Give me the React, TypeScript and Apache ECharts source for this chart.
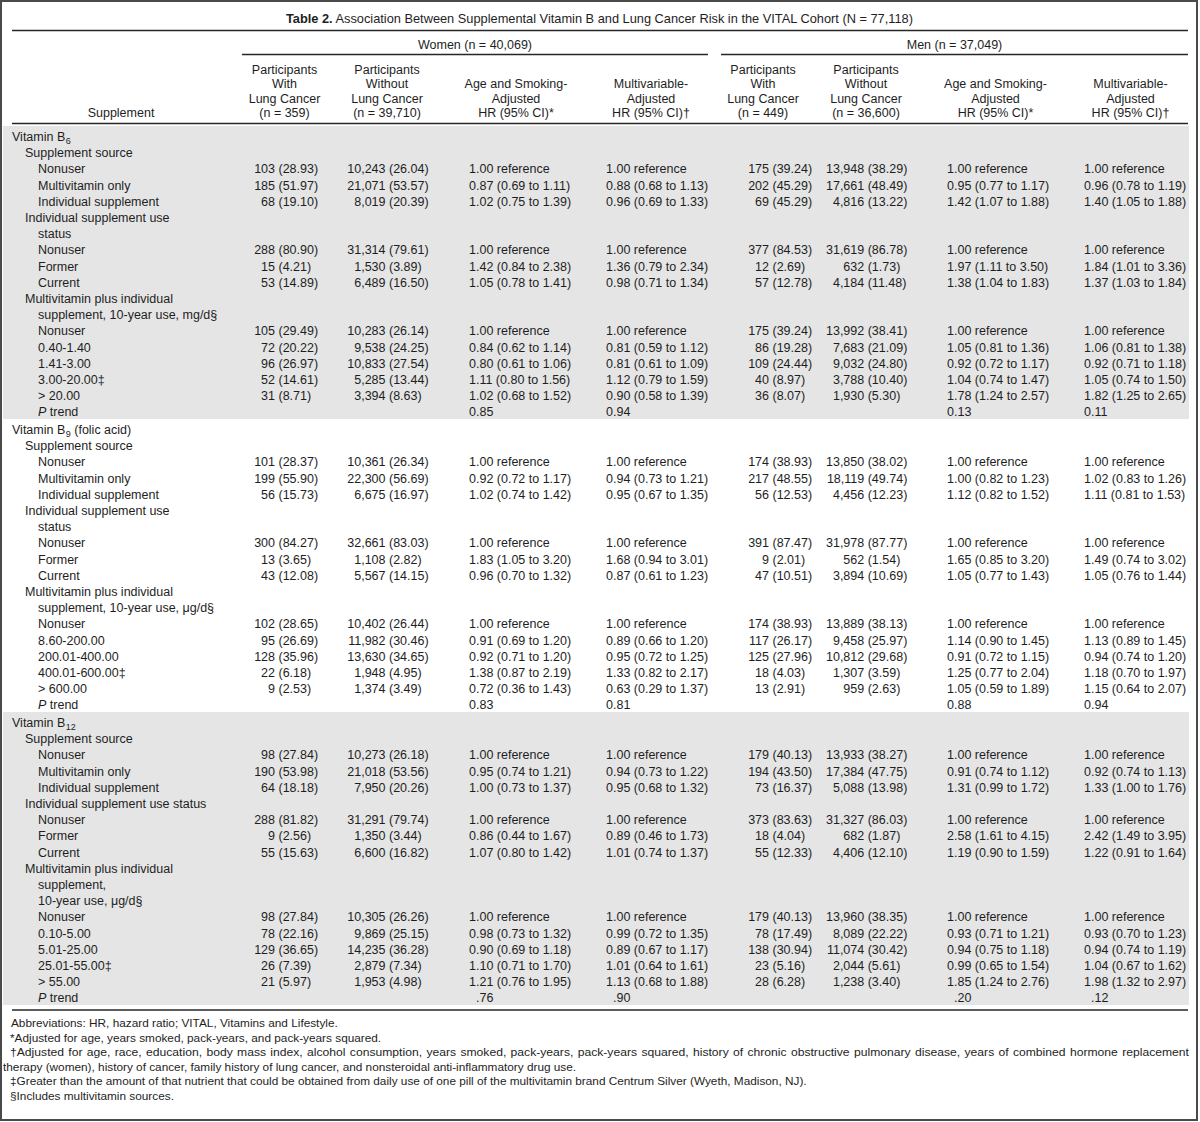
import React, { useEffect, useRef } from "react";
import * as echarts from "echarts";

// ---------- text content ----------
const titleBold = "Table 2.";
const titleRest =
  " Association Between Supplemental Vitamin B and Lung Cancer Risk in the VITAL Cohort (N = 77,118)";
const groupHeaders = ["Women (n = 40,069)", "Men (n = 37,049)"];
const supplementHeader = "Supplement";
const colHeaders: string[][] = [
  ["Participants", "With", "Lung Cancer", "(n = 359)"],
  ["Participants", "Without", "Lung Cancer", "(n = 39,710)"],
  ["Age and Smoking-", "Adjusted", "HR (95% CI)*"],
  ["Multivariable-", "Adjusted", "HR (95% CI)\u2020"],
  ["Participants", "With", "Lung Cancer", "(n = 449)"],
  ["Participants", "Without", "Lung Cancer", "(n = 36,600)"],
  ["Age and Smoking-", "Adjusted", "HR (95% CI)*"],
  ["Multivariable-", "Adjusted", "HR (95% CI)\u2020"],
];

const REF = "1.00 reference";

// ---------- Vitamin B6 ----------
const b6Labels: [string, number][] = [
  ["Vitamin B{6}", 0],
  ["Supplement source", 1],
  ["Nonuser", 2],
  ["Multivitamin only", 2],
  ["Individual supplement", 2],
  ["Individual supplement use", 1],
  ["status", 2],
  ["Nonuser", 2],
  ["Former", 2],
  ["Current", 2],
  ["Multivitamin plus individual", 1],
  ["supplement, 10-year use, mg/d\u00a7", 2],
  ["Nonuser", 2],
  ["0.40-1.40", 2],
  ["1.41-3.00", 2],
  ["3.00-20.00\u2021", 2],
  ["> 20.00", 2],
  ["P trend", 2],
];
const b6Women: (string[] | null)[] = [
  null, null,
  ["103 (28.93)", "10,243 (26.04)", REF, REF],
  ["185 (51.97)", "21,071 (53.57)", "0.87 (0.69 to 1.11)", "0.88 (0.68 to 1.13)"],
  ["68 (19.10)", "8,019 (20.39)", "1.02 (0.75 to 1.39)", "0.96 (0.69 to 1.33)"],
  null, null,
  ["288 (80.90)", "31,314 (79.61)", REF, REF],
  ["15 (4.21)", "1,530 (3.89)", "1.42 (0.84 to 2.38)", "1.36 (0.79 to 2.34)"],
  ["53 (14.89)", "6,489 (16.50)", "1.05 (0.78 to 1.41)", "0.98 (0.71 to 1.34)"],
  null, null,
  ["105 (29.49)", "10,283 (26.14)", REF, REF],
  ["72 (20.22)", "9,538 (24.25)", "0.84 (0.62 to 1.14)", "0.81 (0.59 to 1.12)"],
  ["96 (26.97)", "10,833 (27.54)", "0.80 (0.61 to 1.06)", "0.81 (0.61 to 1.09)"],
  ["52 (14.61)", "5,285 (13.44)", "1.11 (0.80 to 1.56)", "1.12 (0.79 to 1.59)"],
  ["31 (8.71)", "3,394 (8.63)", "1.02 (0.68 to 1.52)", "0.90 (0.58 to 1.39)"],
  ["", "", "0.85", "0.94"],
];
const b6Men: (string[] | null)[] = [
  null, null,
  ["175 (39.24)", "13,948 (38.29)", REF, REF],
  ["202 (45.29)", "17,661 (48.49)", "0.95 (0.77 to 1.17)", "0.96 (0.78 to 1.19)"],
  ["69 (45.29)", "4,816 (13.22)", "1.42 (1.07 to 1.88)", "1.40 (1.05 to 1.88)"],
  null, null,
  ["377 (84.53)", "31,619 (86.78)", REF, REF],
  ["12 (2.69)", "632 (1.73)", "1.97 (1.11 to 3.50)", "1.84 (1.01 to 3.36)"],
  ["57 (12.78)", "4,184 (11.48)", "1.38 (1.04 to 1.83)", "1.37 (1.03 to 1.84)"],
  null, null,
  ["175 (39.24)", "13,992 (38.41)", REF, REF],
  ["86 (19.28)", "7,683 (21.09)", "1.05 (0.81 to 1.36)", "1.06 (0.81 to 1.38)"],
  ["109 (24.44)", "9,032 (24.80)", "0.92 (0.72 to 1.17)", "0.92 (0.71 to 1.18)"],
  ["40 (8.97)", "3,788 (10.40)", "1.04 (0.74 to 1.47)", "1.05 (0.74 to 1.50)"],
  ["36 (8.07)", "1,930 (5.30)", "1.78 (1.24 to 2.57)", "1.82 (1.25 to 2.65)"],
  ["", "", "0.13", "0.11"],
];

// ---------- Vitamin B9 ----------
const b9Labels: [string, number][] = [
  ["Vitamin B{9} (folic acid)", 0],
  ["Supplement source", 1],
  ["Nonuser", 2],
  ["Multivitamin only", 2],
  ["Individual supplement", 2],
  ["Individual supplement use", 1],
  ["status", 2],
  ["Nonuser", 2],
  ["Former", 2],
  ["Current", 2],
  ["Multivitamin plus individual", 1],
  ["supplement, 10-year use, \u03bcg/d\u00a7", 2],
  ["Nonuser", 2],
  ["8.60-200.00", 2],
  ["200.01-400.00", 2],
  ["400.01-600.00\u2021", 2],
  ["> 600.00", 2],
  ["P trend", 2],
];
const b9Women: (string[] | null)[] = [
  null, null,
  ["101 (28.37)", "10,361 (26.34)", REF, REF],
  ["199 (55.90)", "22,300 (56.69)", "0.92 (0.72 to 1.17)", "0.94 (0.73 to 1.21)"],
  ["56 (15.73)", "6,675 (16.97)", "1.02 (0.74 to 1.42)", "0.95 (0.67 to 1.35)"],
  null, null,
  ["300 (84.27)", "32,661 (83.03)", REF, REF],
  ["13 (3.65)", "1,108 (2.82)", "1.83 (1.05 to 3.20)", "1.68 (0.94 to 3.01)"],
  ["43 (12.08)", "5,567 (14.15)", "0.96 (0.70 to 1.32)", "0.87 (0.61 to 1.23)"],
  null, null,
  ["102 (28.65)", "10,402 (26.44)", REF, REF],
  ["95 (26.69)", "11,982 (30.46)", "0.91 (0.69 to 1.20)", "0.89 (0.66 to 1.20)"],
  ["128 (35.96)", "13,630 (34.65)", "0.92 (0.71 to 1.20)", "0.95 (0.72 to 1.25)"],
  ["22 (6.18)", "1,948 (4.95)", "1.38 (0.87 to 2.19)", "1.33 (0.82 to 2.17)"],
  ["9 (2.53)", "1,374 (3.49)", "0.72 (0.36 to 1.43)", "0.63 (0.29 to 1.37)"],
  ["", "", "0.83", "0.81"],
];
const b9Men: (string[] | null)[] = [
  null, null,
  ["174 (38.93)", "13,850 (38.02)", REF, REF],
  ["217 (48.55)", "18,119 (49.74)", "1.00 (0.82 to 1.23)", "1.02 (0.83 to 1.26)"],
  ["56 (12.53)", "4,456 (12.23)", "1.12 (0.82 to 1.52)", "1.11 (0.81 to 1.53)"],
  null, null,
  ["391 (87.47)", "31,978 (87.77)", REF, REF],
  ["9 (2.01)", "562 (1.54)", "1.65 (0.85 to 3.20)", "1.49 (0.74 to 3.02)"],
  ["47 (10.51)", "3,894 (10.69)", "1.05 (0.77 to 1.43)", "1.05 (0.76 to 1.44)"],
  null, null,
  ["174 (38.93)", "13,889 (38.13)", REF, REF],
  ["117 (26.17)", "9,458 (25.97)", "1.14 (0.90 to 1.45)", "1.13 (0.89 to 1.45)"],
  ["125 (27.96)", "10,812 (29.68)", "0.91 (0.72 to 1.15)", "0.94 (0.74 to 1.20)"],
  ["18 (4.03)", "1,307 (3.59)", "1.25 (0.77 to 2.04)", "1.18 (0.70 to 1.97)"],
  ["13 (2.91)", "959 (2.63)", "1.05 (0.59 to 1.89)", "1.15 (0.64 to 2.07)"],
  ["", "", "0.88", "0.94"],
];

// ---------- Vitamin B12 ----------
const b12Labels: [string, number][] = [
  ["Vitamin B{12}", 0],
  ["Supplement source", 1],
  ["Nonuser", 2],
  ["Multivitamin only", 2],
  ["Individual supplement", 2],
  ["Individual supplement use status", 1],
  ["Nonuser", 2],
  ["Former", 2],
  ["Current", 2],
  ["Multivitamin plus individual", 1],
  ["supplement,", 2],
  ["10-year use, \u03bcg/d\u00a7", 2],
  ["Nonuser", 2],
  ["0.10-5.00", 2],
  ["5.01-25.00", 2],
  ["25.01-55.00\u2021", 2],
  ["> 55.00", 2],
  ["P trend", 2],
];
const b12Women: (string[] | null)[] = [
  null, null,
  ["98 (27.84)", "10,273 (26.18)", REF, REF],
  ["190 (53.98)", "21,018 (53.56)", "0.95 (0.74 to 1.21)", "0.94 (0.73 to 1.22)"],
  ["64 (18.18)", "7,950 (20.26)", "1.00 (0.73 to 1.37)", "0.95 (0.68 to 1.32)"],
  null,
  ["288 (81.82)", "31,291 (79.74)", REF, REF],
  ["9 (2.56)", "1,350 (3.44)", "0.86 (0.44 to 1.67)", "0.89 (0.46 to 1.73)"],
  ["55 (15.63)", "6,600 (16.82)", "1.07 (0.80 to 1.42)", "1.01 (0.74 to 1.37)"],
  null, null, null,
  ["98 (27.84)", "10,305 (26.26)", REF, REF],
  ["78 (22.16)", "9,869 (25.15)", "0.98 (0.73 to 1.32)", "0.99 (0.72 to 1.35)"],
  ["129 (36.65)", "14,235 (36.28)", "0.90 (0.69 to 1.18)", "0.89 (0.67 to 1.17)"],
  ["26 (7.39)", "2,879 (7.34)", "1.10 (0.71 to 1.70)", "1.01 (0.64 to 1.61)"],
  ["21 (5.97)", "1,953 (4.98)", "1.21 (0.76 to 1.95)", "1.13 (0.68 to 1.88)"],
  ["", "", ".76", ".90"],
];
const b12Men: (string[] | null)[] = [
  null, null,
  ["179 (40.13)", "13,933 (38.27)", REF, REF],
  ["194 (43.50)", "17,384 (47.75)", "0.91 (0.74 to 1.12)", "0.92 (0.74 to 1.13)"],
  ["73 (16.37)", "5,088 (13.98)", "1.31 (0.99 to 1.72)", "1.33 (1.00 to 1.76)"],
  null,
  ["373 (83.63)", "31,327 (86.03)", REF, REF],
  ["18 (4.04)", "682 (1.87)", "2.58 (1.61 to 4.15)", "2.42 (1.49 to 3.95)"],
  ["55 (12.33)", "4,406 (12.10)", "1.19 (0.90 to 1.59)", "1.22 (0.91 to 1.64)"],
  null, null, null,
  ["179 (40.13)", "13,960 (38.35)", REF, REF],
  ["78 (17.49)", "8,089 (22.22)", "0.93 (0.71 to 1.21)", "0.93 (0.70 to 1.23)"],
  ["138 (30.94)", "11,074 (30.42)", "0.94 (0.75 to 1.18)", "0.94 (0.74 to 1.19)"],
  ["23 (5.16)", "2,044 (5.61)", "0.99 (0.65 to 1.54)", "1.04 (0.67 to 1.62)"],
  ["28 (6.28)", "1,238 (3.40)", "1.85 (1.24 to 2.76)", "1.98 (1.32 to 2.97)"],
  ["", "", ".20", ".12"],
];

const footnoteLines: string[] = [
  "Abbreviations: HR, hazard ratio; VITAL, Vitamins and Lifestyle.",
  "*Adjusted for age, years smoked, pack-years, and pack-years squared.",
  "\u2020Adjusted for age, race, education, body mass index, alcohol consumption, years smoked, pack-years, pack-years squared, history of chronic obstructive pulmonary disease, years of combined hormone replacement",
  "therapy (women), history of cancer, family history of lung cancer, and nonsteroidal anti-inflammatory drug use.",
  "\u2021Greater than the amount of that nutrient that could be obtained from daily use of one pill of the multivitamin brand Centrum Silver (Wyeth, Madison, NJ).",
  "\u00a7Includes multivitamin sources.",
];
const justifiedFootnote = [false, false, true, false, false, false];

// ---------- layout / style ----------
const FONT = "Liberation Sans";
const FS = 12.5;
const TITLE_FS = 12.8;
const FN_FS = 11.8;
const TEXT = "#1e1e1e";
const LINE = "#262626";
const SHADE = "#e5e5e5";

const levelX = [12, 25, 38];
const headerCenters = [284.5, 387, 516, 651, 763, 866, 995.5, 1130.5];
const countParenX = [278.5, 389, 772.5, 867.7]; // W1, W2, M1, M2
const hrStartX = [469, 606, 947, 1084]; // W3, W4, M3, M4
const sectionTops = [126, 419, 712];
const SECTION_H = 293;
const ROW0 = 11;
const ROW_H = 16.2;
const footY = [1023, 1037.5, 1052, 1066.5, 1081, 1095.5];
const footX = [11, 10, 10, 3, 10, 10];
const FOOT_RIGHT = 1189;

let measureCtx: CanvasRenderingContext2D | null = null;
function tw(s: string, size = FS, weight = "normal", style = "normal") {
  if (!measureCtx) measureCtx = document.createElement("canvas").getContext("2d");
  measureCtx!.font = `${style} ${weight} ${size}px "${FONT}"`;
  return measureCtx!.measureText(s).width;
}

function txt(
  text: string,
  x: number,
  y: number,
  align: "left" | "center" | "right" = "left",
  extra: any = {}
): any {
  const { fontSize, fontWeight, fontStyle, ...rest } = extra;
  return {
    type: "text",
    x,
    y,
    silent: true,
    ...rest,
    style: {
      text,
      fill: TEXT,
      fontFamily: FONT,
      fontSize: fontSize ?? FS,
      fontWeight: fontWeight ?? "normal",
      fontStyle: fontStyle ?? "normal",
      textAlign: align,
      textVerticalAlign: "middle",
      align,
      verticalAlign: "middle",
    },
  };
}

function hline(x1: number, x2: number, y: number, w = 1.5): any {
  return {
    type: "line",
    silent: true,
    shape: { x1, y1: y, x2, y2: y },
    style: { stroke: LINE, lineWidth: w },
  };
}

function labelEls(label: string, x: number, y: number): any[] {
  const els: any[] = [];
  if (label === "P trend") {
    els.push(txt("P", x, y, "left", { fontStyle: "italic" }));
    els.push(txt(" trend", x + tw("P", FS, "normal", "italic"), y));
    return els;
  }
  const m = label.match(/^(.*)\{(\d+)\}(.*)$/);
  if (m) {
    const [, a, sub, b] = m;
    els.push(txt(a, x, y));
    const xs = x + tw(a);
    els.push(txt(sub, xs + 0.5, y + 3.5, "left", { fontSize: 9 }));
    if (b) els.push(txt(b, xs + 0.5 + tw(sub, 9), y));
    return els;
  }
  els.push(txt(label, x, y));
  return els;
}

function cellEls(vals: string[], side: number, y: number): any[] {
  const els: any[] = [];
  const sp = tw(" ");
  vals.forEach((v, c) => {
    if (!v) return;
    if (c < 2) {
      const px = countParenX[side * 2 + c];
      const m = v.match(/^(\S+) (\(.*\))$/);
      if (m) {
        els.push(txt(m[1], px - sp, y, "right"));
        els.push(txt(m[2], px, y, "left"));
      } else {
        els.push(txt(v, px - sp, y, "right"));
      }
    } else {
      let x = hrStartX[side * 2 + (c - 2)];
      if (v.startsWith(".")) x += tw("0");
      els.push(txt(v, x, y, "left"));
    }
  });
  return els;
}

function buildElements(): any[] {
  const els: any[] = [];
  // shaded sections
  [0, 2].forEach((i) =>
    els.push({
      type: "rect",
      silent: true,
      shape: { x: 3, y: sectionTops[i], width: 1186, height: SECTION_H },
      style: { fill: SHADE },
    })
  );
  // title
  const wb = tw(titleBold, TITLE_FS, "bold");
  const wr = tw(titleRest, TITLE_FS);
  const tx = 600 - (wb + wr) / 2;
  els.push(txt(titleBold, tx, 18.5, "left", { fontWeight: "bold", fontSize: TITLE_FS }));
  els.push(txt(titleRest, tx + wb, 18.5, "left", { fontSize: TITLE_FS }));
  els.push(hline(12, 1188, 30.5, 1.6));
  // group headers
  els.push(txt(groupHeaders[0], 475, 45, "center"));
  els.push(txt(groupHeaders[1], 954.5, 45, "center"));
  els.push(hline(242, 708, 54.5, 1.4));
  els.push(hline(721, 1188, 54.5, 1.4));
  // column headers (bottom aligned)
  const hy = [70.1, 84.4, 98.7, 113];
  colHeaders.forEach((lines, c) => {
    const off = 4 - lines.length;
    lines.forEach((l, i) => els.push(txt(l, headerCenters[c], hy[off + i], "center")));
  });
  els.push(txt(supplementHeader, 121, 113, "center"));
  els.push(hline(12, 1188, 123.5, 1.6));
  // body
  const sections: [[string, number][], (string[] | null)[], (string[] | null)[]][] = [
    [b6Labels, b6Women, b6Men],
    [b9Labels, b9Women, b9Men],
    [b12Labels, b12Women, b12Men],
  ];
  sections.forEach(([labels, women, men], s) => {
    labels.forEach(([label, level], r) => {
      const y = sectionTops[s] + ROW0 + r * ROW_H;
      els.push(...labelEls(label, levelX[level], y));
      const w = women[r];
      const mm = men[r];
      if (w) els.push(...cellEls(w, 0, y));
      if (mm) els.push(...cellEls(mm, 1, y));
    });
  });
  els.push(hline(12, 1188, 1010, 1.6));
  // footnotes
  footnoteLines.forEach((l, i) => {
    const x = footX[i];
    const avail = FOOT_RIGHT - x;
    if (justifiedFootnote[i]) {
      const words = l.split(" ");
      const natural = tw(l, FN_FS);
      const s = 1 + (avail / natural - 1) * 0.6; // widen glyphs a little, rest goes to word spacing
      const widths = words.map((w) => tw(w, FN_FS) * s);
      const total = widths.reduce((a, b) => a + b, 0);
      const gap = (avail - total) / (words.length - 1);
      let cx = x;
      words.forEach((w, k) => {
        els.push(txt(w, cx, footY[i], "left", { fontSize: FN_FS, scaleX: s }));
        cx += widths[k] + gap;
      });
      return;
    }
    const w = tw(l, FN_FS);
    const extra: any = { fontSize: FN_FS };
    if (w > avail) extra.scaleX = avail / w;
    els.push(txt(l, x, footY[i], "left", extra));
  });
  // outer frame
  els.push({
    type: "rect",
    silent: true,
    shape: { x: 1, y: 1, width: 1196, height: 1119 },
    style: { fill: "none", stroke: "#4a4a4a", lineWidth: 2 },
  });
  return els;
}

export default function App() {
  const ref = useRef<HTMLDivElement>(null);
  useEffect(() => {
    if (!ref.current) return;
    const chart = echarts.init(ref.current, undefined, { renderer: "svg" });
    chart.setOption({
      animation: false,
      backgroundColor: "#ffffff",
      graphic: { elements: buildElements() },
    });
    return () => chart.dispose();
  }, []);
  return (
    <div
      ref={ref}
      style={{ position: "absolute", left: 0, top: 0, width: 1200, height: 1122, background: "#fff" }}
    />
  );
}
